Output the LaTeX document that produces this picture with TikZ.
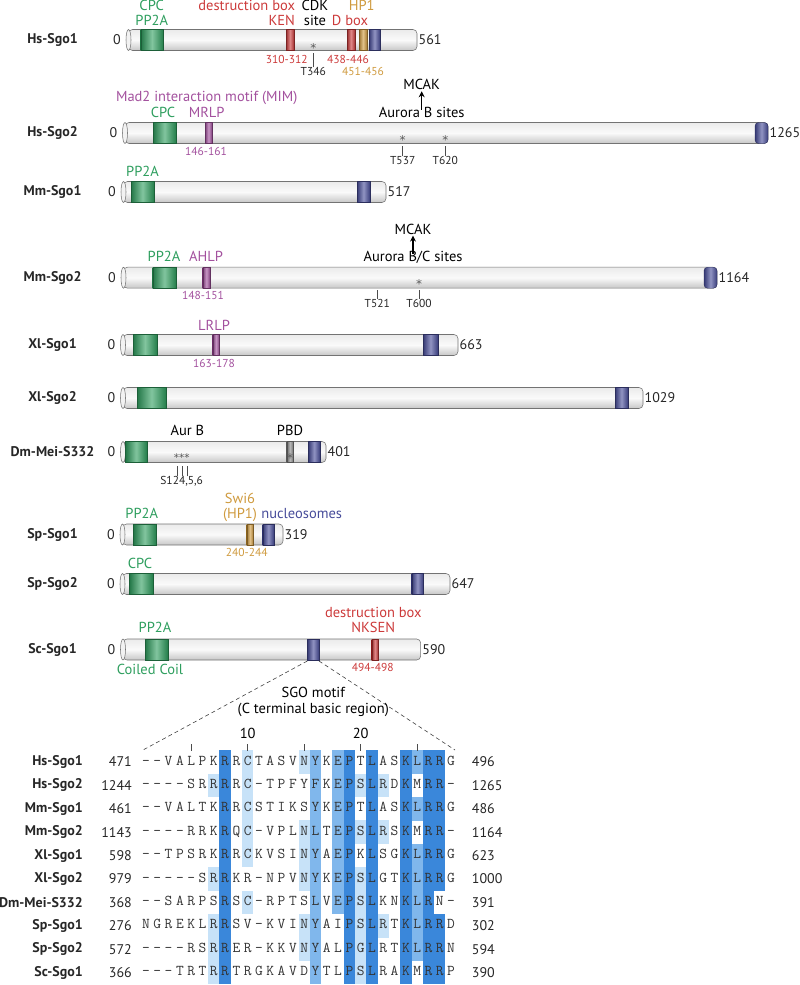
\documentclass[tikz,border=0pt]{standalone}
\usepackage{fontspec}
\setmainfont{PT Sans}
\newfontfamily\starfont{DejaVu Sans}
\usetikzlibrary{arrows.meta}
\definecolor{sgogreen}{HTML}{2E9E5E}
\definecolor{sgored}{HTML}{CC3A3A}
\definecolor{sgogold}{HTML}{CF9A3E}
\definecolor{sgopurple}{HTML}{A3519E}
\definecolor{sgonavy}{HTML}{474C9A}
\definecolor{sgogray}{HTML}{8A8A8A}
\definecolor{alndark}{HTML}{3A87DA}
\definecolor{alnmid}{HTML}{80B7EC}
\definecolor{alnlight}{HTML}{C7E2F8}
\tikzset{
  protname/.style={font=\fontsize{14}{16}\selectfont\bfseries,text=black!85,inner sep=0pt},
  protbar/.style={top color=black!8,bottom color=black!22,middle color=black!2,
    draw=black!55,line width=0.55pt,rounded corners=4pt},
  barcap/.style={fill=black!5,draw=black!55,line width=0.55pt},
  domainbox/.style={left color=#1!75!black,right color=#1!80!black,middle color=#1!60!white,
    draw=#1!60!black,line width=0.4pt},
  domlabel/.style={font=\fontsize{14.5}{16}\selectfont,text=#1,inner sep=0pt,
    text height=1.5ex,text depth=.25ex},
  domlabel/.default={black},
  poslabel/.style={font=\fontsize{11.5}{13}\selectfont,text=#1,inner sep=0pt,
    text height=1.5ex,text depth=.25ex},
  poslabel/.default={black!85},
  numlabel/.style={font=\fontsize{14}{16}\selectfont,text=black!85,inner sep=0pt},
  starmark/.style={font=\starfont\fontsize{12}{12}\selectfont,text=black!65,inner sep=0pt,anchor=base},
  tickline/.style={draw=black!70,line width=0.7pt},
  mcakarrow/.style={-{Stealth[length=6pt,width=6pt]},line width=1.3pt},
  zoomline/.style={draw=black!75,dash pattern=on 4pt off 3pt,line width=0.6pt},
  alnlabel/.style={font=\fontsize{14}{16}\selectfont\bfseries,text=black!85,anchor=east,inner sep=0pt},
  seqchar/.style={font=\fontsize{15}{16}\ttfamily,text=black!80,inner sep=0pt,
    text height=1.5ex,text depth=.25ex},
}
\newcommand\alncell[3]{\fill[#3] ({146+(#1-1)*11.3-5.65},{762+(#2-1)*23.4-11.8}) rectangle ++(11.3,23.6);}

\begin{document}
\begin{tikzpicture}[x=1pt,y=-1pt]
  \useasboundingbox (0,0) rectangle (800,985);
  % protein bars
  \foreach \lbl/\nm/\yy/\xs/\xe/\len in {
      Hs-Sgo1/hsA/40/126/417/561, Hs-Sgo2/hsB/133/122.5/768/1265,
      Mm-Sgo1/mmA/192/121/386/517, Mm-Sgo2/mmB/277.7/121/717/1164,
      Xl-Sgo1/xlA/345/120.5/458/663, Xl-Sgo2/xlB/398/120.5/643/1029,
      Dm-Mei-S332/dmA/452/120.5/326/401, Sp-Sgo1/spA/534.5/120/283/319,
      Sp-Sgo2/spB/584/120/450/647, Sc-Sgo1/scA/649.5/120.5/420.7/590}{
    \node[protname] (\nm) at (52.5,\yy) {\lbl};
    \shadedraw[protbar] ({\xs+2.5},{\yy-10.5}) rectangle (\xe,{\yy+10.5});
    \filldraw[barcap] ({\xs+2.5},\yy) ellipse [x radius=2.5pt,y radius=10.5pt];
    \node[numlabel,anchor=east] (\nm-0) at ({\xs-5},\yy) {0};
    \node[numlabel,anchor=west] (\nm-end) at ({\xe+1.5},\yy) {\len};
  }
  % domains
  \foreach \yy/\xa/\xb/\cl in {
      40/140.7/163.3/sgogreen, 40/286/294/sgored, 40/347/355/sgored,
      40/359/367/sgogold, 40/369/380/sgonavy,
      133/153/176/sgogreen, 133/205/212/sgopurple,
      192/131/154/sgogreen, 192/357/370/sgonavy,
      277.7/152.7/176/sgogreen, 277.7/202.7/210/sgopurple,
      345/133/157/sgogreen, 345/212.7/219.3/sgopurple, 345/423/438/sgonavy,
      398/137/166/sgogreen, 398/615/628/sgonavy,
      452/125.5/146.7/sgogreen, 452/286.7/293.3/sgogray, 452/308.3/320/sgonavy,
      534.5/133.3/156/sgogreen, 534.5/246.7/253.3/sgogold, 534.5/262.7/274/sgonavy,
      584/129.3/152.7/sgogreen, 584/411.7/423.3/sgonavy,
      649.5/145/167.7/sgogreen, 649.5/307.3/319/sgonavy, 649.5/371.7/378.3/sgored}{
    \shadedraw[domainbox=\cl] (\xa,{\yy-10.5}) rectangle (\xb,{\yy+10.5});
  }
  \shadedraw[domainbox=sgonavy,rounded corners=3.5pt] (755,122.5) rectangle (768,143.5);
  \shadedraw[domainbox=sgonavy,rounded corners=3.5pt] (704,267.2) rectangle (717,288.2);

  % Hs-Sgo1
  \node[domlabel=sgogreen] (hsAcpc) at (151.7,7.2) {CPC};
  \node[domlabel=sgogreen] (hsApp2a) at (151.7,22.2) {PP2A};
  \node[domlabel=sgored] (hsAdb) at (246.7,7.2) {destruction box};
  \node[domlabel=sgored] (hsAken) at (281.7,22.2) {KEN};
  \node[domlabel] (hsAcdk) at (315,7.2) {CDK};
  \node[domlabel] (hsAsite) at (315,22.2) {site};
  \node[domlabel=sgored] (hsAdbox) at (350,22.2) {D box};
  \node[domlabel=sgogold] (hsAhp1) at (361.7,7.2) {HP1};
  \node[poslabel=sgored] (hsAkenpos) at (286.7,60) {310-312};
  \node[poslabel=sgored] (hsAdboxpos) at (348,60) {438-446};
  \node[poslabel=sgogold] (hsAhp1pos) at (363,72) {451-456};
  \node[starmark] (hsAstar) at (313.3,52.6) {*};
  \node[poslabel] (t346) at (313.3,72) {T346};
  \draw[tickline] (t346.north) -- ++(0,-14);

  % Hs-Sgo2
  \node[domlabel=sgopurple] (hsBmim) at (206.7,98.5) {Mad2 interaction motif (MIM)};
  \node[domlabel=sgogreen] (hsBcpc) at (163,114.3) {CPC};
  \node[domlabel=sgopurple] (hsBmrlp) at (206.7,114.3) {MRLP};
  \node[poslabel=sgopurple] (hsBmrlppos) at (206,152) {146-161};
  \node[domlabel] (hsBaur) at (421.7,114.3) {Aurora B sites};
  \node[domlabel] (hsBmcak) at (421.7,86.7) {MCAK};
  \draw[mcakarrow] (hsBaur.north) -- (hsBmcak.south);
  \node[starmark] (hsBstarA) at (402.7,144) {*};
  \node[starmark] (hsBstarB) at (445.3,144) {*};
  \node[poslabel] (t537) at (402.7,161) {T537};
  \node[poslabel] (t620) at (445.3,161) {T620};
  \draw[tickline] (t537.north) -- ++(0,-10);
  \draw[tickline] (t620.north) -- ++(0,-10);

  % Mm-Sgo1
  \node[domlabel=sgogreen] (mmApp2a) at (142.5,173.3) {PP2A};

  % Mm-Sgo2
  \node[domlabel=sgogreen] (mmBpp2a) at (164,258.5) {PP2A};
  \node[domlabel=sgopurple] (mmBahlp) at (206,258.5) {AHLP};
  \node[poslabel=sgopurple] (mmBahlppos) at (203,296) {148-151};
  \node[domlabel] (mmBaur) at (413,258.5) {Aurora B/C sites};
  \node[domlabel] (mmBmcak) at (413,231) {MCAK};
  \draw[mcakarrow] (mmBaur.north) -- (mmBmcak.south);
  \node[starmark] (mmBstar) at (419,288.8) {*};
  \node[poslabel] (t521) at (377.3,304) {T521};
  \node[poslabel] (t600) at (419,304) {T600};
  \draw[tickline] (t521.north) -- ++(0,-9);
  \draw[tickline] (t600.north) -- ++(0,-9);

  % Xl-Sgo1
  \node[domlabel=sgopurple] (xlAlrlp) at (214,327.5) {LRLP};
  \node[poslabel=sgopurple] (xlAlrlppos) at (214,364) {163-178};

  % Dm-Mei-S332
  \node[domlabel] (dmAaur) at (187.3,432.7) {Aur B};
  \node[domlabel] (dmApbd) at (290,432.7) {PBD};
  \node[starmark,font=\starfont\fontsize{10.5}{11}\selectfont] (dmAstars) at (181.7,461.2) {***};
  \node[starmark] (dmApbdstar) at (290,462.5) {*};
  \node[poslabel] (s124) at (181.7,481) {S124,5,6};
  \foreach \dx in {-4.4,0.3,5.6}{
    \draw[tickline] ([xshift=\dx pt]s124.north) -- ++(0,-10);
  }

  % Sp-Sgo1
  \node[domlabel=sgogreen] (spApp2a) at (141.7,515) {PP2A};
  \node[domlabel=sgogold] (spAswi6) at (240,500) {Swi6};
  \node[domlabel=sgogold] (spAhp1) at (240,515) {(HP1)};
  \node[domlabel=sgonavy] (spAnuc) at (301.7,515) {nucleosomes};
  \node[poslabel=sgogold] (spAswi6pos) at (246.7,553) {240-244};

  % Sp-Sgo2
  \node[domlabel=sgogreen] (spBcpc) at (140,565) {CPC};

  % Sc-Sgo1
  \node[domlabel=sgogreen] (scApp2a) at (155,629.3) {PP2A};
  \node[domlabel=sgored] (scAdb) at (373.3,614) {destruction box};
  \node[domlabel=sgored] (scAnksen) at (373.3,629.3) {NKSEN};
  \node[domlabel=sgogreen] (scAcc) at (150,671.7) {Coiled Coil};
  \node[poslabel=sgored] (scAnksenpos) at (372.7,668) {494-498};
  \coordinate (scAsgoL) at (307.3,661);
  \coordinate (scAsgoR) at (319,661);
  \coordinate (alnL) at (143,750);
  \coordinate (alnR) at (455,750);
  \draw[zoomline] (scAsgoL) -- (alnL);
  \draw[zoomline] (scAsgoR) -- (alnR);
  \node[domlabel] (sgomotif) at (313.3,694) {SGO motif};
  \node[domlabel] (sgoregion) at (313.3,710.5) {(C terminal basic region)};

  % alignment shading
  \foreach \c in {8,19,21,24,26}{\foreach \r in {1,...,10}{\alncell{\c}{\r}{alndark}}}
  \foreach \r in {1,2,3,4,5,6,8,9,10}{\alncell{27}{\r}{alndark}}
  \foreach \r in {1,...,10}{\alncell{16}{\r}{alnmid}}
  \foreach \r in {2,4,6,7,8,9,10}{\alncell{20}{\r}{alnlight}}
  \foreach \r in {1,...,7}{\alncell{18}{\r}{alnmid}}
  \foreach \r in {1,3,5,6,7,8,9}{\alncell{25}{\r}{alnmid}}
  \foreach \r in {2,6,8,9,10}{\alncell{7}{\r}{alnlight}}
  \foreach \r in {1,2,3,4,5,7}{\alncell{10}{\r}{alnlight}}
  \foreach \r in {1,4,5,6,8,9}{\alncell{15}{\r}{alnlight}}
  \foreach \r in {2,4,8}{\alncell{22}{\r}{alnlight}}

  % ruler
  \node[domlabel] (pos10) at (247.7,735) {10};
  \node[domlabel] (pos20) at (360.7,735) {20};
  \foreach \c in {5,10,15,20,25}{
    \draw[tickline] ({146+(\c-1)*11.3},744) -- ++(0,7);
  }

  % alignment rows
  \foreach \lbl/\st/\en [count=\r] in {Hs-Sgo1/471/496, Hs-Sgo2/1244/1265,
      Mm-Sgo1/461/486, Mm-Sgo2/1143/1164, Xl-Sgo1/598/623, Xl-Sgo2/979/1000,
      Dm-Mei-S332/368/391, Sp-Sgo1/276/302, Sp-Sgo2/572/594, Sc-Sgo1/366/390}{
    \node[alnlabel] (aln\r) at (83,{762+(\r-1)*23.4}) {\lbl};
    \node[numlabel,anchor=east] (aln\r-st) at (132,{762+(\r-1)*23.4}) {\st};
    \node[numlabel,anchor=west] (aln\r-en) at (471.7,{762+(\r-1)*23.4}) {\en};
  }
  \foreach \ch [count=\c] in {-,-,V,A,L,P,K,R,R,C,T,A,S,V,N,Y,K,E,P,T,L,A,S,K,L,R,R,G}{
    \node[seqchar] (sa\c) at ({146+(\c-1)*11.3},762) {\ch};}
  \foreach \ch [count=\c] in {-,-,-,-,S,R,R,R,R,C,-,T,P,F,Y,F,K,E,P,S,L,R,D,K,M,R,R,-}{
    \node[seqchar] (sb\c) at ({146+(\c-1)*11.3},785.4) {\ch};}
  \foreach \ch [count=\c] in {-,-,V,A,L,T,K,R,R,C,S,T,I,K,S,Y,K,E,P,T,L,A,S,K,L,R,R,G}{
    \node[seqchar] (sc\c) at ({146+(\c-1)*11.3},808.8) {\ch};}
  \foreach \ch [count=\c] in {-,-,-,-,R,R,K,R,Q,C,-,V,P,L,N,L,T,E,P,S,L,R,S,K,M,R,R,-}{
    \node[seqchar] (sd\c) at ({146+(\c-1)*11.3},832.2) {\ch};}
  \foreach \ch [count=\c] in {-,-,T,P,S,R,K,R,R,C,K,V,S,I,N,Y,A,E,P,K,L,S,G,K,L,R,R,G}{
    \node[seqchar] (se\c) at ({146+(\c-1)*11.3},855.6) {\ch};}
  \foreach \ch [count=\c] in {-,-,-,-,-,S,R,R,K,R,-,N,P,V,N,Y,K,E,P,S,L,G,T,K,L,R,R,G}{
    \node[seqchar] (sf\c) at ({146+(\c-1)*11.3},879) {\ch};}
  \foreach \ch [count=\c] in {-,-,S,A,R,P,S,R,S,C,-,R,P,T,S,L,V,E,P,S,L,K,N,K,L,R,N,-}{
    \node[seqchar] (sg\c) at ({146+(\c-1)*11.3},902.4) {\ch};}
  \foreach \ch [count=\c] in {N,G,R,E,K,L,R,R,S,V,-,K,V,I,N,Y,A,I,P,S,L,R,T,K,L,R,R,D}{
    \node[seqchar] (sh\c) at ({146+(\c-1)*11.3},925.8) {\ch};}
  \foreach \ch [count=\c] in {-,-,-,-,R,S,R,R,E,R,-,K,K,V,N,Y,A,L,P,G,L,R,T,K,L,R,R,N}{
    \node[seqchar] (si\c) at ({146+(\c-1)*11.3},949.2) {\ch};}
  \foreach \ch [count=\c] in {-,-,-,T,R,T,R,R,T,R,G,K,A,V,D,Y,T,L,P,S,L,R,A,K,M,R,R,P}{
    \node[seqchar] (sj\c) at ({146+(\c-1)*11.3},972.6) {\ch};}
\end{tikzpicture}
\end{document}
